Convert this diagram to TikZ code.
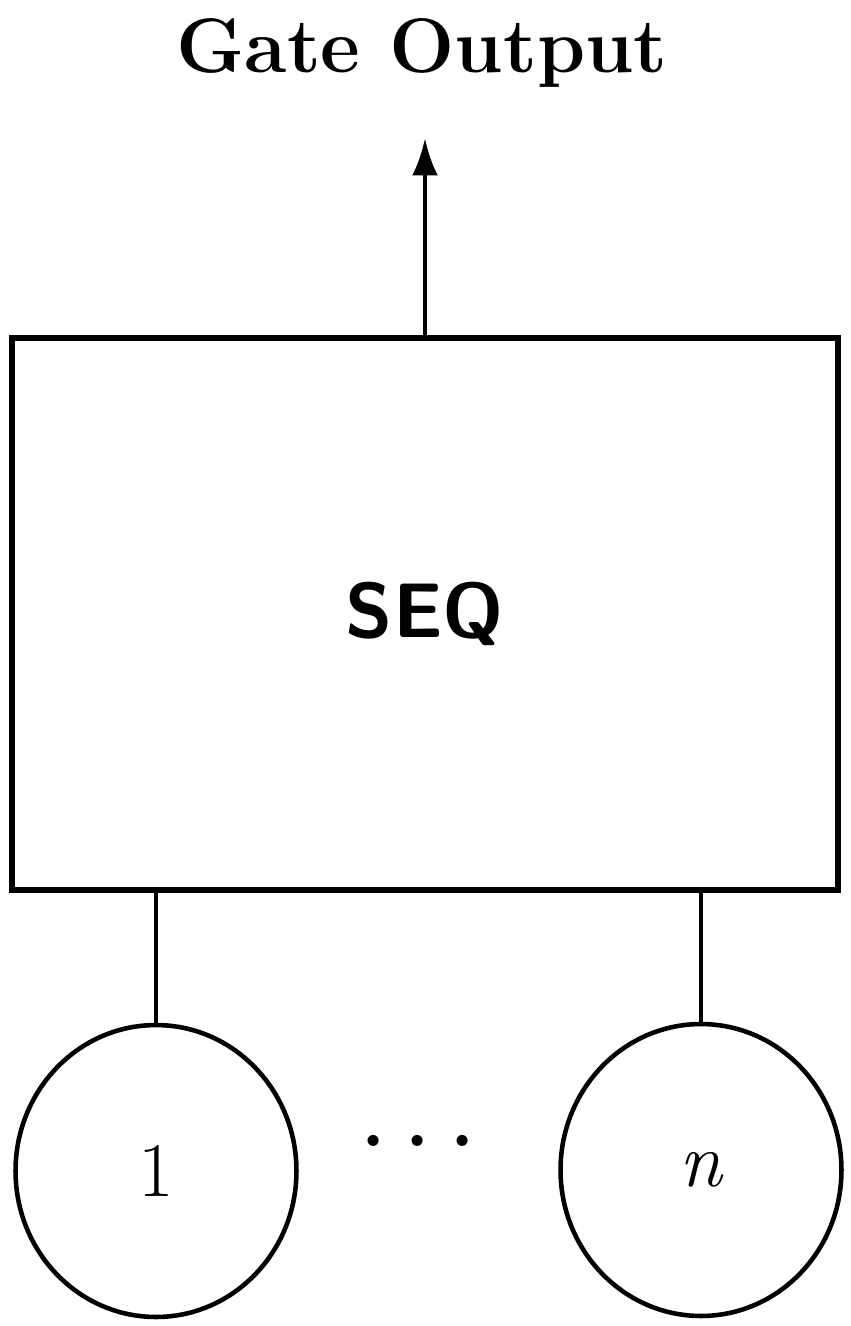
\documentclass[tikz,border=0pt]{standalone}
\usepackage{fontspec}
\usepackage{tikz}
\usetikzlibrary{arrows.meta,positioning,shapes.geometric}

\tikzset{
  gatebox/.style={draw,line width=3.4pt,minimum width=16.52cm,minimum height=11.04cm,
                  inner sep=0pt,font=\fontsize{44}{50}\selectfont\sffamily\bfseries},
  childnode/.style={draw,ellipse,line width=2.6pt,minimum width=5.62cm,minimum height=5.84cm,
                    inner sep=0pt,font=\fontsize{44}{50}\selectfont},
  wire/.style={line width=2.4pt}
}

\begin{document}
\begin{tikzpicture}[x=0.02cm,y=-0.02cm,>={Latex[length=7.5mm,width=5.2mm]}]
    \useasboundingbox (0,0) rectangle (850,1326);

    % title
    \node[anchor=base,inner sep=0pt,font=\fontsize{44}{50}\selectfont\bfseries]
      (title) at (422,72) {Gate Output};

    % gate
    \node[gatebox] (seq) at (425,614) {SEQ};
    \coordinate (out) at (425,138);
    \draw[->,line width=2.8pt] (seq.north) -- (out);

    % inputs
    \node[childnode] (c1) at (156,1171) {1};
    \node[childnode] (cn) at (701,1170) {\itshape n};
    \node[anchor=base,inner sep=0pt,font=\fontsize{44}{50}\selectfont\bfseries] (dots) at (418,1146)
      {.\hspace{0.26em}.\hspace{0.26em}.};

    \draw[wire] (c1.north) -- (c1.north |- seq.south);
    \draw[wire] (cn.north) -- (cn.north |- seq.south);
  \end{tikzpicture}
\end{document}
